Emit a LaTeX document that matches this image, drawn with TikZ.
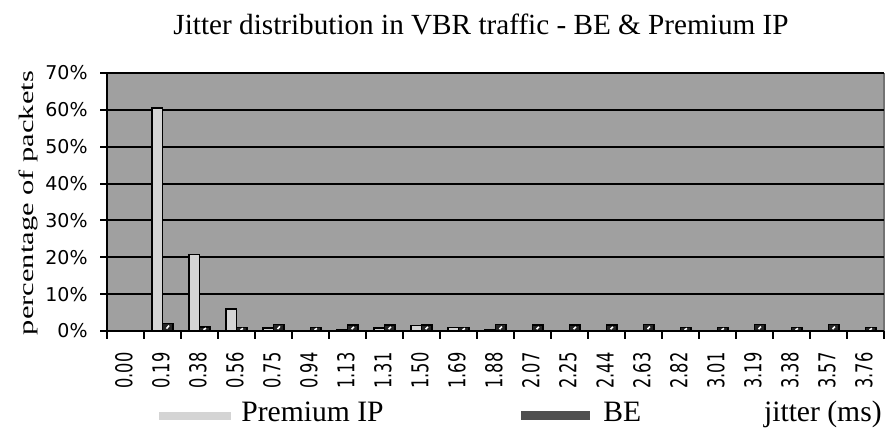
\documentclass[tikz,border=0pt]{standalone}
\usepackage{fontspec}
\usepackage{graphicx}
\setmainfont{Liberation Serif}
\newfontfamily\chartfont{DejaVu Sans}
\usepackage{tikz}
\usepackage{xcolor}
\definecolor{plotgray}{RGB}{160,160,160}
\definecolor{premiumgray}{RGB}{212,212,212}
\definecolor{begray}{RGB}{80,80,80}

\tikzset{
  bigtext/.style={font=\fontsize{14.8}{17}\selectfont, inner sep=0pt},
  ylab/.style={font=\chartfont\fontsize{9.5}{10}\selectfont, anchor=east, inner sep=0pt},
  xlab/.style={font=\chartfont\fontsize{11.6}{12}\selectfont, rotate=90, anchor=east, inner sep=0pt},
  gridline/.style={line width=1pt},
  premiumbar/.style={draw, line width=0.75pt, fill=premiumgray},
  bebar/.style={draw, line width=0.75pt, fill=black!85}
}

\begin{document}
\begin{tikzpicture}[x=0.5pt,y=0.5pt]
            \useasboundingbox (0,0) rectangle (893,432);
            % plot area
            \fill[plotgray] (107,101) rectangle (884,359);
            \draw[black!55, line width=0.75pt] (884,101) -- (884,359);
            \foreach \v in {1,...,7}
                \draw[gridline] (107,{101+36.86*\v}) -- (884,{101+36.86*\v});

            % bars
            \foreach \i/\p in {1/60.5,2/20.8,3/6,4/0.8,6/0.4,7/0.8,8/1.5,9/0.9,10/0.4}
                \draw[premiumbar] ({107+37*\i+8},101) rectangle ({107+37*\i+18.5},{101+3.686*\p});
            \foreach \i/\b in {1/2.1,2/1.1,3/1,4/1.8,5/1,6/1.6,7/1.6,8/1.6,9/1,10/1.7,11/1.6,12/1.6,13/1.6,14/1.7,15/1,16/1,17/1.7,18/1,19/1.7,20/1} {
                \draw[bebar] ({107+37*\i+18.5},101) rectangle ({107+37*\i+29},{101+3.686*\b});
                \draw[white, line width=0.8pt] ({107+37*\i+22.5},{101+1.1*\b}) -- ({107+37*\i+25},{101+2.6*\b});
            }

            % axes and ticks
            \draw[gridline] (107,359) -- (107,101) -- (884,101);
            \foreach \v in {0,...,7}
                \draw[gridline] (100,{101+36.86*\v}) -- (107,{101+36.86*\v});
            \foreach \i in {0,...,21}
                \draw[gridline] ({107+37*\i},101) -- ({107+37*\i},93);

            % axis labels
            \foreach \v/\t in {0/0\%,1/10\%,2/20\%,3/30\%,4/40\%,5/50\%,6/60\%,7/70\%}
                \node[ylab] (y\v) at (88,{101+36.86*\v}) {\t};
            \foreach \t [count=\i from 0] in {0.00,0.19,0.38,0.56,0.75,0.94,1.13,1.31,1.50,1.69,1.88,2.07,2.25,2.44,2.63,2.82,3.01,3.19,3.38,3.57,3.76}
                \node[xlab] (x\i) at ({107+37*\i+17},80) {\scalebox{0.7}[1]{\t}};

            \node[bigtext, font=\fontsize{14.6}{17}\selectfont] (title) at (481,408) {Jitter distribution in VBR traffic - BE \& Premium IP};
            \node[bigtext, rotate=90] (ylabel) at (28,229) {\scalebox{1.03}[0.7]{percentage of packets}};

            % legend
            \coordinate (pa) at (159,16);
            \coordinate (pb) at (231,16);
            \coordinate (ba) at (521,16);
            \coordinate (bb) at (590,16);
            \draw[premiumgray, line width=4pt] (pa) -- (pb);
            \draw[begray, line width=4.5pt] (ba) -- (bb);
            \node[bigtext, anchor=base west] (premium) at (241,10) {Premium IP};
            \node[bigtext, anchor=base west] (be) at (603,10) {BE};
            \node[bigtext, anchor=base east] (xlabel) at (882,10) {jitter (ms)};
        \end{tikzpicture}
\end{document}
